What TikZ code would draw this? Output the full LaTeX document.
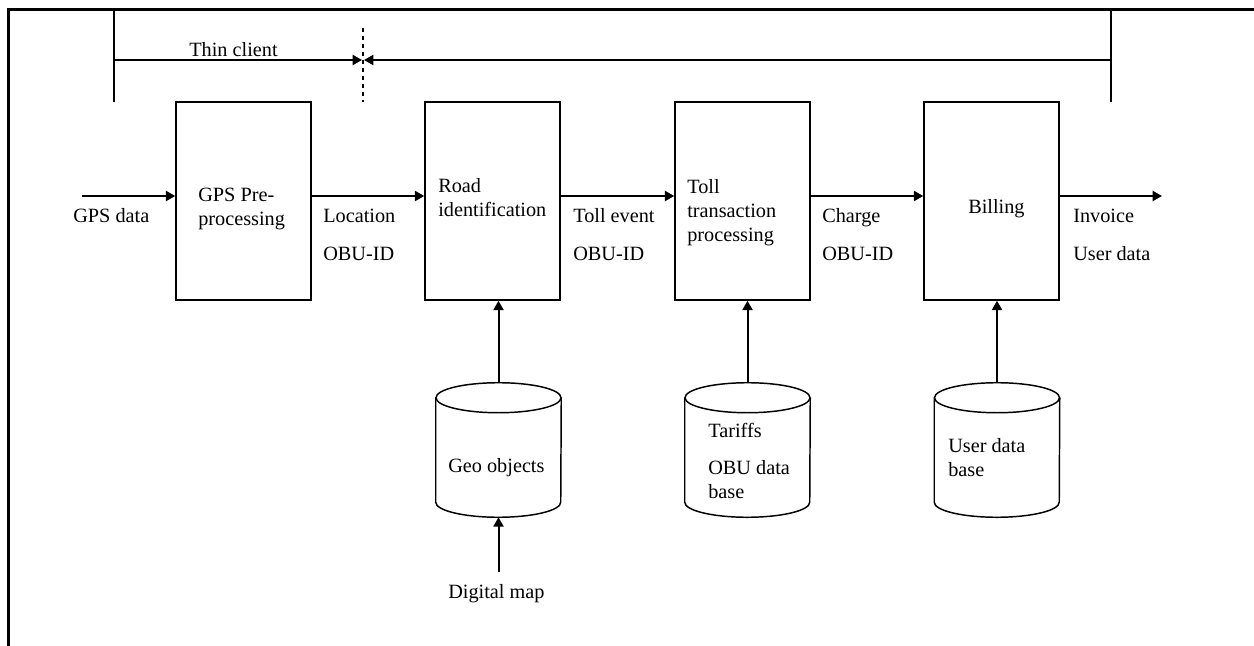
\documentclass[tikz,border=0pt]{standalone}
\usepackage{fontspec}
\setmainfont{Liberation Serif}
\usetikzlibrary{arrows.meta,calc}
\newcommand\drawcyl[1]{%
  \draw[dbline] ($(#1.north west)+(0,15)$) -- ($(#1.south west)+(0,-15)$)
    arc[start angle=180,end angle=0,x radius=62.5,y radius=15]
    -- ($(#1.north east)+(0,15)$);
  \draw[dbline] ($(#1.north)+(0,15)$) ellipse[x radius=62.5,y radius=15];}
\begin{document}
\begin{tikzpicture}[x=0.75pt,y=-0.75pt,
  box/.style={draw, line width=1.1pt, minimum width=101.25pt, minimum height=148.5pt, inner sep=0},
  arr/.style={-{Triangle[length=7pt,width=7.5pt]}, line width=1.5pt},
  lbl/.style={font=\fontsize{15.2}{18}\selectfont, inner sep=0, anchor=base west, align=left},
  dbbody/.style={inner sep=0, minimum width=93.75pt, minimum height=100.5pt},
  dbline/.style={line width=1.1pt},
  brk/.style={line width=1.3pt}]
\useasboundingbox (0,0) rectangle (1254,646);
% frame
\draw[line width=2.25pt] (8,646) -- (8,9) -- (1254,9);
% thin client bracket
\draw[brk] (114,9) -- (114,102);
\draw[brk] (1111,9) -- (1111,102);
\draw[brk, dash pattern=on 3pt off 3pt] (363,28) -- (363,102);
\coordinate (al) at (114,60);
\coordinate (ar) at (1111,60);
\coordinate (am) at (363,60);
\draw[arr] (al) -- ([xshift=-0.75pt]am);
\draw[arr] (ar) -- ([xshift=0.75pt]am);
\node[lbl] (tthin) at (189,56) {Thin client};
% boxes
\node[box] (gps) at (243.5,201) {};
\node[box] (road) at (492.5,201) {};
\node[box] (toll) at (742.5,201) {};
\node[box] (bill) at (991.5,201) {};
\node[lbl] (tgps) at (198,225) {GPS Pre-\\processing};
\node[lbl] (troad) at (438,216) {Road\\identification};
\node[lbl] (ttoll) at (687,241) {Toll\\transaction\\processing};
\node[lbl] (tbill) at (968,213) {Billing};
% flow labels
\node[lbl] (lgps) at (73,222) {GPS data};
\node[lbl] (lloc) at (323,260) {Location\\[10.5pt]OBU-ID};
\node[lbl] (levt) at (573,260) {Toll event\\[10.5pt]OBU-ID};
\node[lbl] (lchg) at (822,260) {Charge\\[10.5pt]OBU-ID};
\node[lbl] (linv) at (1073,260) {Invoice\\[10.5pt]User data};
% flow arrows
\coordinate (gin) at (82,196);
\coordinate (gout) at (1162,196);
\draw[arr] (gin) -- (gin -| gps.west);
\draw[arr] (gps.east |- gin) -- (road.west |- gin);
\draw[arr] (road.east |- gin) -- (toll.west |- gin);
\draw[arr] (toll.east |- gin) -- (bill.west |- gin);
\draw[arr] (bill.east |- gin) -- (gout);
% databases
\node[dbbody] (geo) at (498.5,450) {};
\node[dbbody] (tar) at (747.5,450) {};
\node[dbbody] (udb) at (997,450) {};
\drawcyl{geo}
\drawcyl{tar}
\drawcyl{udb}
\node[lbl] (tgeo) at (448,472) {Geo objects};
\node[lbl] (ttar) at (708,498) {Tariffs\\[9.75pt]OBU data\\base};
\node[lbl] (tudb) at (948,476) {User data\\base};
\draw[arr] (geo.north) -- (geo.north |- road.south);
\draw[arr] (tar.north) -- (tar.north |- toll.south);
\draw[arr] (udb.north) -- (udb.north |- bill.south);
% digital map
\node[lbl] (tdm) at (448,598) {Digital map};
\coordinate (dmtop) at (498.5,572);
\draw[arr] (dmtop) -- (geo.south);
\end{tikzpicture}
\end{document}
